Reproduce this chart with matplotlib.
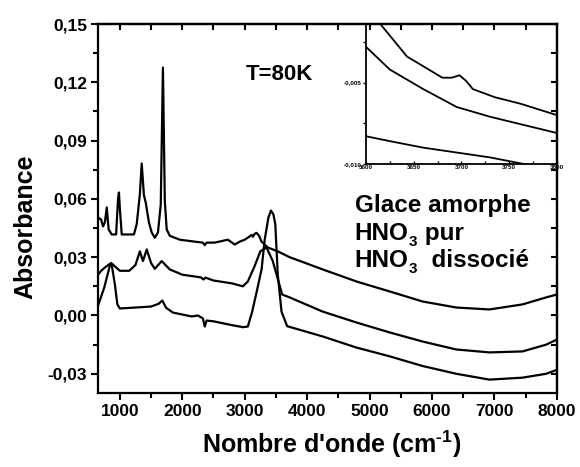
import matplotlib
matplotlib.use("Agg")
import matplotlib.pyplot as plt
from matplotlib.ticker import MultipleLocator, FuncFormatter

plt.rcParams['font.family'] = ['Liberation Sans', 'DejaVu Sans']
plt.rcParams['font.weight'] = 'bold'
plt.rcParams['mathtext.fontset'] = 'custom'
plt.rcParams['mathtext.rm'] = 'Liberation Sans:bold'
plt.rcParams['mathtext.bf'] = 'Liberation Sans:bold'
plt.rcParams['mathtext.default'] = 'rm'

# spectre du haut (pics fins)
haut_x = [650, 700, 730, 760, 790, 820, 870, 940, 970, 985, 1000, 1030, 1225, 1270,
          1320, 1350, 1385, 1415, 1465, 1510, 1560, 1610, 1655, 1690, 1720, 1750,
          1800, 1960, 2200, 2330, 2360, 2390, 2520, 2730, 2840, 2920, 3000, 3080,
          3110, 3130, 3160, 3190, 3230, 3270, 3370, 3530, 3720, 4250, 4790, 5320,
          5850, 6390, 6920, 7450, 7830, 8000]
haut_y = [0.0504, 0.0494, 0.0458, 0.048, 0.0556, 0.0443, 0.0417, 0.0417, 0.0597,
          0.0633, 0.055, 0.0417, 0.0417, 0.047, 0.0623, 0.0782, 0.062, 0.058,
          0.048, 0.0427, 0.040, 0.0427, 0.057, 0.1276, 0.059, 0.0443, 0.041,
          0.039, 0.038, 0.0375, 0.0362, 0.0375, 0.0375, 0.039, 0.0365, 0.038,
          0.039, 0.0407, 0.0415, 0.0405, 0.042, 0.0425, 0.041, 0.038, 0.035,
          0.033, 0.030, 0.0237, 0.0175, 0.0124, 0.0072, 0.0041, 0.0031, 0.0057,
          0.0093, 0.0108]

# spectre du milieu
milieu_x = [650, 700, 760, 860, 930, 1000, 1150, 1250, 1320, 1370, 1430, 1500,
            1560, 1670, 1800, 2000, 2300, 2340, 2370, 2500, 2800, 2970, 3050,
            3150, 3250, 3350, 3450, 3600, 3720, 4250, 4790, 5320, 5850, 6390,
            6920, 7450, 7830, 8000]
milieu_y = [0.021, 0.023, 0.0247, 0.027, 0.025, 0.023, 0.023, 0.026, 0.033, 0.028,
            0.034, 0.027, 0.024, 0.028, 0.0237, 0.021, 0.0196, 0.0185, 0.0195,
            0.018, 0.0165, 0.015, 0.0175, 0.0247, 0.033, 0.035, 0.028, 0.0108,
            0.0093, 0.002, -0.0036, -0.0087, -0.0134, -0.0175, -0.019, -0.0185,
            -0.015, -0.0124]

# spectre du bas (bande OH a 3400)
bas_x = [650, 750, 840, 870, 920, 960, 1000, 1200, 1500, 1620, 1680, 1740, 1850,
         2000, 2150, 2250, 2330, 2360, 2390, 2500, 2800, 2970, 3050, 3120, 3200,
         3270, 3320, 3380, 3420, 3460, 3490, 3530, 3590, 3680, 4250, 4790, 5320,
         5850, 6390, 6920, 7450, 7830, 8000]
bas_y = [0.005, 0.0144, 0.0257, 0.026, 0.016, 0.0057, 0.0036, 0.004, 0.0046, 0.006,
         0.0077, 0.004, 0.0015, 0.0005, -0.0005, 0.0, -0.0015, -0.0057, -0.0026,
         -0.003, -0.005, -0.006, -0.0057, 0.002, 0.0134, 0.0237, 0.039, 0.0504,
         0.054, 0.052, 0.047, 0.021, 0.002, -0.0055, -0.0108, -0.0165, -0.021,
         -0.026, -0.030, -0.033, -0.032, -0.030, -0.028]

# encart 3600-3800
encart_x = [3600, 3615, 3643, 3680, 3690, 3698, 3705, 3712, 3735, 3762, 3800]
encart_a = [-0.0004, -0.0014, -0.0034, -0.0047, -0.0047, -0.00455, -0.0049,
            -0.0054, -0.0059, -0.0063, -0.0070]
encart_bx = [3600, 3625, 3660, 3695, 3730, 3765, 3800]
encart_b = [-0.0028, -0.0042, -0.0054, -0.0065, -0.0071, -0.0076, -0.0081]
encart_c = [-0.0083, -0.0086, -0.0090, -0.0093, -0.0096, -0.0100, -0.0102]


def virgule(ndec):
    return FuncFormatter(lambda v, p: f"{v:.{ndec}f}".replace(".", ","))


fig = plt.figure(figsize=(5.8, 4.67), dpi=100)
ax = fig.add_axes([0.169, 0.158, 0.791, 0.7906])

for xs, ys in [(haut_x, haut_y), (milieu_x, milieu_y), (bas_x, bas_y)]:
    ax.plot(xs, ys, color='black', lw=1.6)

ax.set_xlim(650, 8000)
ax.set_ylim(-0.04, 0.15)
ax.xaxis.set_major_locator(MultipleLocator(1000))
ax.xaxis.set_minor_locator(MultipleLocator(500))
ax.yaxis.set_major_locator(MultipleLocator(0.03))
ax.yaxis.set_minor_locator(MultipleLocator(0.015))
ax.yaxis.set_major_formatter(virgule(2))
for s in ax.spines.values():
    s.set_linewidth(1.6)
ax.tick_params(which='both', direction='out', width=1.5, labelsize=12.5)
ax.tick_params(which='major', length=5, pad=3)
ax.tick_params(which='minor', length=3.5)
# graduations du haut et de droite vers l'interieur
ax2 = ax.secondary_xaxis('top')
ax2.xaxis.set_major_locator(MultipleLocator(1000))
ax2.xaxis.set_minor_locator(MultipleLocator(500))
ax2.tick_params(which='both', direction='in', width=1.5, length=4, labeltop=False)
ax3 = ax.secondary_yaxis('right')
ax3.yaxis.set_major_locator(MultipleLocator(0.03))
ax3.yaxis.set_minor_locator(MultipleLocator(0.015))
ax3.tick_params(which='both', direction='in', width=1.5, length=4, labelright=False)
ax2.spines['top'].set_linewidth(1.6)
ax3.spines['right'].set_linewidth(1.6)

ax.set_xlabel("Nombre d'onde (cm$^{\\text{-}1}$)", fontsize=18, fontweight='bold')
ax.set_ylabel("Absorbance", fontsize=18, fontweight='bold')
ax.xaxis.set_label_coords(0.51, -0.095)
ax.yaxis.set_label_coords(-0.133, 0.45)

ax.text(3560, 0.124, "T=80K", fontsize=16, ha='center', va='center')
ax.text(4760, 0.053, "Glace amorphe", fontsize=17.5)
for yb, reste in [(0.039, " pur"), (0.0252, "  dissocié")]:
    t1 = ax.text(4760, yb, "HNO", fontsize=17.5)
    ax.annotate("3", xy=(1, 0), xycoords=t1, xytext=(0.5, -3),
                textcoords='offset points', fontsize=11, va='bottom')
    ax.annotate(reste, xy=(1, 0), xycoords=t1, xytext=(7, 0),
                textcoords='offset points', fontsize=17.5, va='bottom')

# encart
ins = fig.add_axes([0.631, 0.649, 0.329, 0.2996])
ins.set_facecolor('none')
ins.plot(encart_x, encart_a, color='black', lw=1.3)
ins.plot(encart_bx, encart_b, color='black', lw=1.3)
ins.plot(encart_bx, encart_c, color='black', lw=1.3)
ins.set_xlim(3600, 3800)
ins.set_ylim(-0.010, -0.0014)
ins.xaxis.set_major_locator(MultipleLocator(50))
ins.xaxis.set_minor_locator(MultipleLocator(25))
ins.yaxis.set_major_locator(MultipleLocator(0.005))
ins.yaxis.set_minor_locator(MultipleLocator(0.0025))
ins.yaxis.set_major_formatter(virgule(3))
for s in ins.spines.values():
    s.set_linewidth(1.3)
ins.tick_params(which='both', labelsize=4.5, width=1, pad=1)
ins.tick_params(axis='y', which='both', direction='out', length=2)
ins.tick_params(axis='x', which='both', direction='in', length=2)

fig.savefig("out.png", dpi=100)
